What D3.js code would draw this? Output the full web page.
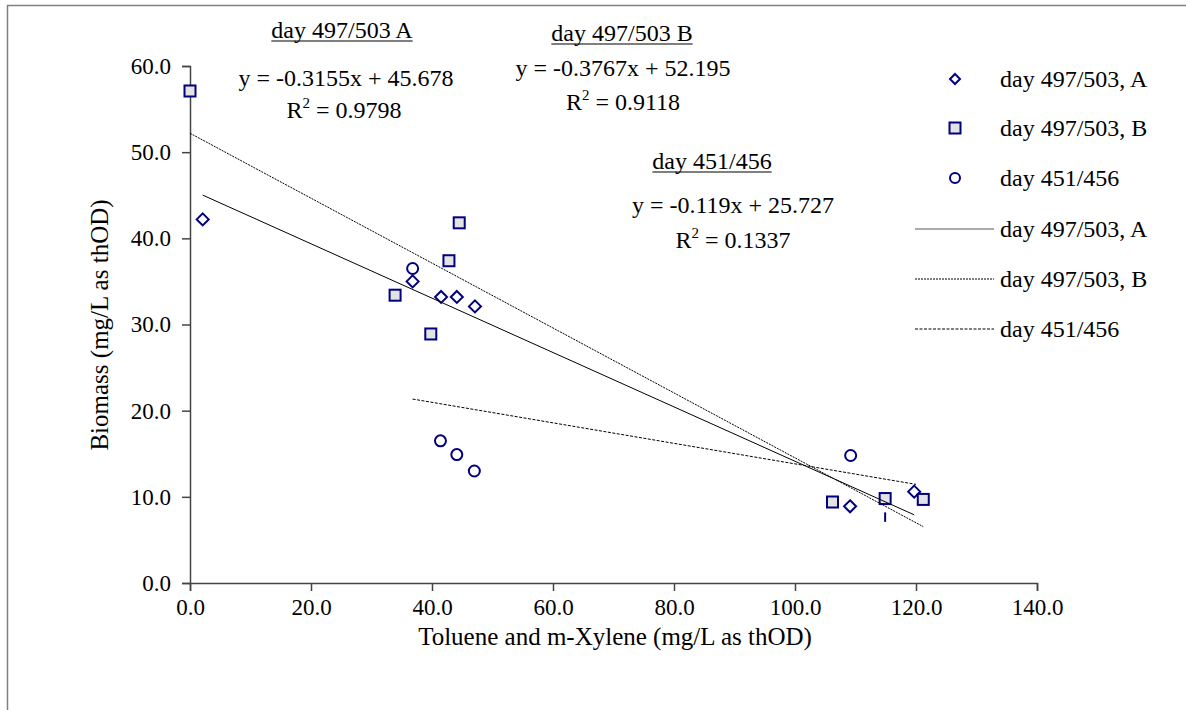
<!DOCTYPE html>
<html lang="en">
<head>
    <meta charset="UTF-8">
    <title>Biomass vs Toluene and m-Xylene</title>
    <script src="https://d3js.org/d3.v7.min.js"></script>
    <style>
        body { margin: 0; background: #fff; }
        svg text { font-family: "Liberation Serif", "Times New Roman", serif; fill: #000; }
    </style>
</head>
<body>
    <svg id="chart" width="1186" height="710"></svg>
    <script>
        // data
        var seriesNames = ["day 497/503, A", "day 497/503, B", "day 451/456"];

        var xA = [2.1, 36.8, 41.5, 44.1, 47.1, 109.1, 119.7];
        var yA = [42.2, 35.0, 33.2, 33.2, 32.1, 8.9, 10.6];

        var xB = [0.0, 33.9, 39.8, 42.8, 44.5, 106.2, 114.9, 121.2];
        var yB = [57.1, 33.4, 28.9, 37.4, 41.8, 9.4, 9.8, 9.7];

        var xC = [36.8, 41.4, 44.1, 47.0, 109.2];
        var yC = [36.5, 16.5, 14.9, 13.0, 14.8];

        // trendlines: slope, intercept, x range
        var trendSlopes = [-0.3155, -0.3767, -0.119];
        var trendIntercepts = [45.678, 52.195, 25.727];
        var trendFrom = [2.1, 0.0, 36.8];
        var trendTo = [119.7, 121.2, 120.0];
        var trendR2 = ["0.9798", "0.9118", "0.1337"];
        var trendTitles = ["day 497/503 A", "day 497/503 B", "day 451/456"];
        var trendEq = ["y = -0.3155x + 45.678", "y = -0.3767x + 52.195", "y = -0.119x + 25.727"];

        var xTicks = [0, 20, 40, 60, 80, 100, 120, 140];
        var yTicks = [0, 10, 20, 30, 40, 50, 60];

        var svg = d3.select("#chart");
        var navy = "#000080";

        // outer frame (right and bottom edges fall outside the picture)
        svg.append("rect")
            .attr("x", 7.5).attr("y", 5.5)
            .attr("width", 1300).attr("height", 900)
            .attr("fill", "none").attr("stroke", "#808080").attr("stroke-width", 1.5);

        var x = d3.scaleLinear().domain([0, 140]).range([190, 1037]);
        var y = d3.scaleLinear().domain([0, 60]).range([583, 66]);

        // axes
        var xAxis = svg.append("g")
            .attr("transform", "translate(0,583)")
            .call(d3.axisBottom(x).tickValues(xTicks).tickFormat(d3.format(".1f")).tickSize(8).tickPadding(8));
        var yAxis = svg.append("g")
            .attr("transform", "translate(190,0)")
            .call(d3.axisLeft(y).tickValues(yTicks).tickFormat(d3.format(".1f")).tickSize(8).tickPadding(11));

        [xAxis, yAxis].forEach(function(ax) {
            ax.select(".domain").attr("stroke", "#444").attr("stroke-width", 1.5);
            ax.selectAll(".tick line").attr("stroke", "#444").attr("stroke-width", 1.5);
            ax.selectAll(".tick text")
                .attr("font-family", "Liberation Serif")
                .attr("font-size", 23)
                .attr("fill", "#000");
        });

        // axis titles
        svg.append("text")
            .attr("x", 615).attr("y", 645)
            .attr("text-anchor", "middle")
            .attr("font-size", 25)
            .text("Toluene and m-Xylene (mg/L as thOD)");
        svg.append("text")
            .attr("transform", "translate(108,325) rotate(-90)")
            .attr("text-anchor", "middle")
            .attr("font-size", 25)
            .text("Biomass (mg/L as thOD)");

        // markers
        function diamond(g, cx, cy, r) {
            g.append("path")
                .attr("d", "M" + cx + "," + (cy - r) + "L" + (cx + r) + "," + cy + "L" + cx + "," + (cy + r) + "L" + (cx - r) + "," + cy + "Z")
                .attr("fill", "#fff").attr("stroke", navy).attr("stroke-width", 2);
        }
        function square(g, cx, cy, s) {
            g.append("rect")
                .attr("x", cx - s / 2).attr("y", cy - s / 2)
                .attr("width", s).attr("height", s)
                .attr("fill", "#e3e3e3").attr("stroke", navy).attr("stroke-width", 2);
        }
        function circle(g, cx, cy, r) {
            g.append("circle")
                .attr("cx", cx).attr("cy", cy).attr("r", r)
                .attr("fill", "#fff").attr("stroke", navy).attr("stroke-width", 2);
        }

        var pts = svg.append("g");
        xA.forEach(function(v, i) { diamond(pts, x(v), y(yA[i]), 6); });
        xB.forEach(function(v, i) { square(pts, x(v), y(yB[i]), 11); });
        xC.forEach(function(v, i) { circle(pts, x(v), y(yC[i]), 5.5); });

        // small stray mark under the square near x = 115
        var strayX = [114.9];
        var strayY = [[8.2, 7.1]];
        pts.selectAll("line.stray").data(strayX).join("line")
            .attr("class", "stray")
            .attr("x1", d => x(d)).attr("x2", d => x(d))
            .attr("y1", (d, i) => y(strayY[i][0])).attr("y2", (d, i) => y(strayY[i][1]))
            .attr("stroke", navy).attr("stroke-width", 2);

        // trendlines
        var dashes = [null, "2,1", "3,1.5"];
        var trendG = svg.append("g");
        trendSlopes.forEach(function(m, i) {
            var x0 = trendFrom[i], x1 = trendTo[i];
            trendG.append("line")
                .attr("x1", x(x0)).attr("y1", y(m * x0 + trendIntercepts[i]))
                .attr("x2", x(x1)).attr("y2", y(m * x1 + trendIntercepts[i]))
                .attr("stroke", "#000").attr("stroke-width", 1)
                .attr("stroke-dasharray", dashes[i]);
        });

        // trendline annotations
        var titleX = [342, 622, 712];
        var titleY = [38, 41, 169];
        var eqX = [346, 623, 733];
        var eqY = [86, 76, 213];
        var r2X = [344, 623, 733];
        var r2Y = [118, 110, 248];
        var ann = svg.append("g").attr("font-size", 24).attr("text-anchor", "middle");
        trendTitles.forEach(function(t, i) {
            var ttl = ann.append("text").attr("x", titleX[i]).attr("y", titleY[i]).text(t);
            var w = ttl.node().getComputedTextLength();
            ann.append("line")
                .attr("x1", titleX[i] - w / 2).attr("x2", titleX[i] + w / 2)
                .attr("y1", titleY[i] + 3).attr("y2", titleY[i] + 3)
                .attr("stroke", "#000").attr("stroke-width", 1.2);
            ann.append("text").attr("x", eqX[i]).attr("y", eqY[i]).text(trendEq[i]);
            var r2 = ann.append("text").attr("x", r2X[i]).attr("y", r2Y[i]);
            r2.append("tspan").text("R");
            r2.append("tspan").attr("font-size", 15).attr("dy", -10).text("2");
            r2.append("tspan").attr("dy", 10).text(" = " + trendR2[i]);
        });

        // legend
        var legRowY = [79, 128, 178, 229, 279, 329];
        var leg = svg.append("g").attr("font-size", 24);
        diamond(leg, 955, legRowY[0], 5);
        square(leg, 955, legRowY[1], 11);
        circle(leg, 955, legRowY[2], 5);
        for (var i = 0; i < 3; i++) {
            leg.append("line")
                .attr("x1", 915).attr("x2", 994)
                .attr("y1", legRowY[i + 3]).attr("y2", legRowY[i + 3])
                .attr("stroke", i === 0 ? "#555" : "#000").attr("stroke-width", 1)
                .attr("stroke-dasharray", dashes[i]);
        }
        var legLabels = seriesNames.concat(seriesNames);
        legLabels.forEach(function(t, i) {
            leg.append("text").attr("x", 1000).attr("y", legRowY[i] + 8).text(t);
        });
    </script>
</body>
</html>
